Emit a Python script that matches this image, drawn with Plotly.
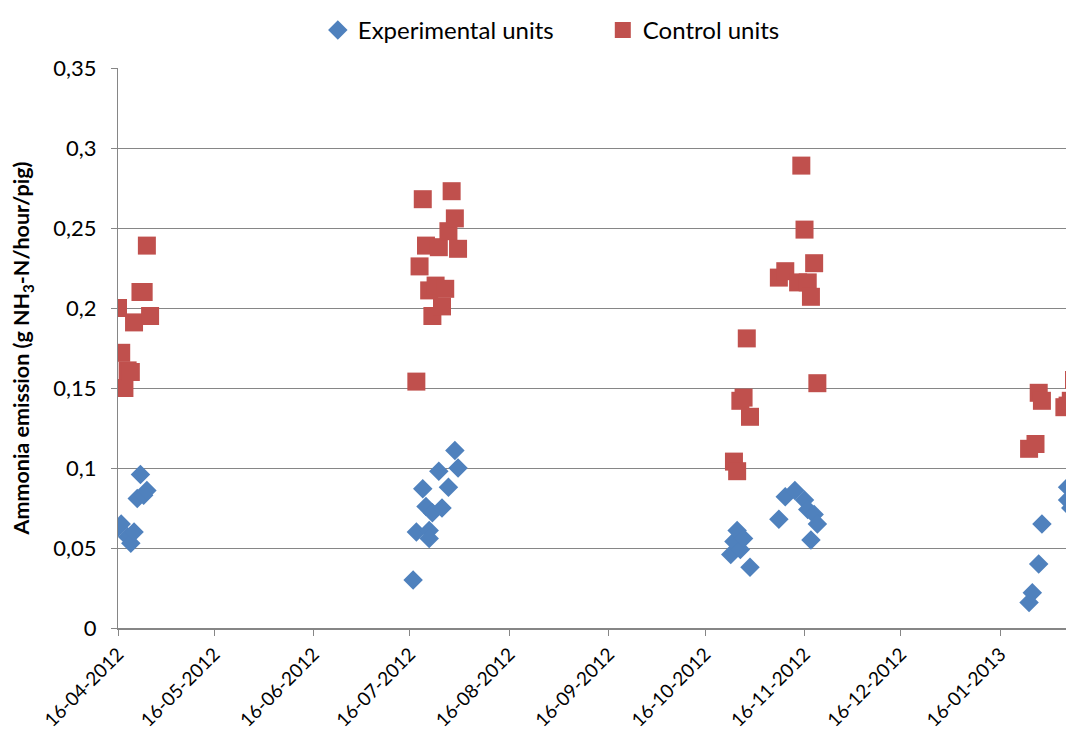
import plotly.graph_objects as go

# Experimental units (blue diamonds)
exp_dates = [
    "2012-04-16", "2012-04-17", "2012-04-19", "2012-04-20", "2012-04-21",
    "2012-04-22", "2012-04-23", "2012-04-24", "2012-04-25",
    "2012-07-17", "2012-07-18", "2012-07-20", "2012-07-21", "2012-07-22",
    "2012-07-22", "2012-07-23", "2012-07-25", "2012-07-26", "2012-07-28",
    "2012-07-30", "2012-07-31",
    "2012-10-24", "2012-10-25", "2012-10-26", "2012-10-27", "2012-10-28",
    "2012-10-30", "2012-11-08", "2012-11-10", "2012-11-13", "2012-11-16",
    "2012-11-17", "2012-11-18", "2012-11-19", "2012-11-20",
    "2013-01-25", "2013-01-26", "2013-01-28", "2013-01-29", "2013-02-06",
    "2013-02-06", "2013-02-07",
]
exp_values = [
    0.063, 0.065, 0.057, 0.053, 0.060,
    0.081, 0.096, 0.083, 0.086,
    0.030, 0.060, 0.087, 0.076, 0.061,
    0.056, 0.072, 0.098, 0.075, 0.088,
    0.111, 0.100,
    0.046, 0.054, 0.061, 0.049, 0.056,
    0.038, 0.068, 0.082, 0.086, 0.080,
    0.074, 0.055, 0.071, 0.065,
    0.016, 0.022, 0.040, 0.065, 0.088,
    0.080, 0.075,
]

# Control units (red squares)
ctrl_dates = [
    "2012-04-16", "2012-04-17", "2012-04-18", "2012-04-19", "2012-04-20",
    "2012-04-21", "2012-04-23", "2012-04-24", "2012-04-25", "2012-04-26",
    "2012-07-18", "2012-07-19", "2012-07-20", "2012-07-21", "2012-07-22",
    "2012-07-23", "2012-07-24", "2012-07-25", "2012-07-26", "2012-07-27",
    "2012-07-28", "2012-07-29", "2012-07-30", "2012-07-31",
    "2012-10-25", "2012-10-26", "2012-10-27", "2012-10-28", "2012-10-29",
    "2012-10-30", "2012-11-08", "2012-11-10", "2012-11-14", "2012-11-15",
    "2012-11-16", "2012-11-17", "2012-11-18", "2012-11-19", "2012-11-20",
    "2013-01-25", "2013-01-27", "2013-01-28", "2013-01-29", "2013-02-05",
    "2013-02-06", "2013-02-07", "2013-02-08",
]
ctrl_values = [
    0.200, 0.172, 0.150, 0.161, 0.160,
    0.191, 0.210, 0.210, 0.239, 0.195,
    0.154, 0.226, 0.268, 0.239, 0.211,
    0.195, 0.214, 0.238, 0.201, 0.212,
    0.248, 0.273, 0.256, 0.237,
    0.104, 0.098, 0.142, 0.144, 0.181,
    0.132, 0.219, 0.223, 0.216, 0.289,
    0.249, 0.216, 0.207, 0.228, 0.153,
    0.112, 0.115, 0.147, 0.142, 0.138,
    0.139, 0.142, 0.155,
]

y_ticks = [0, 0.05, 0.1, 0.15, 0.2, 0.25, 0.3, 0.35]

BLUE = "#4F81BD"
RED = "#C0504D"
GRID = "#868686"
FONT = "Lato, Carlito, 'Liberation Sans', sans-serif"

fig = go.Figure()
fig.add_trace(go.Scatter(
    x=exp_dates, y=exp_values, mode="markers", name="Experimental units",
    marker=dict(symbol="diamond", size=15, color=BLUE, line=dict(width=0)),
))
fig.add_trace(go.Scatter(
    x=ctrl_dates, y=ctrl_values, mode="markers", name="Control units",
    marker=dict(symbol="square", size=18, color=RED, line=dict(width=0)),
))

# the page body has an 8px margin: shrink the figure so it fits the window
fig.update_layout(
    width=1066, height=726,
    paper_bgcolor="white", plot_bgcolor="white",
    separators=", ",
    font=dict(family=FONT, size=16, color="black"),
    margin=dict(l=110, r=0, t=60, b=106),
    showlegend=True,
    legend=dict(orientation="h", x=0.209, xanchor="left",
                yref="container", y=1.0, yanchor="top",
                font=dict(size=24), entrywidth=240, entrywidthmode="pixels"),
    xaxis=dict(
        type="date", range=["2012-04-16", "2013-02-08"], automargin=False,
        tick0="2012-04-16", dtick="M1", tickformat="%d-%m-%Y",
        tickangle=-45, ticks="outside", ticklen=6, tickcolor=GRID,
        showline=True, linecolor=GRID, linewidth=1.5,
        showgrid=False, zeroline=False, tickfont=dict(size=19),
    ),
    yaxis=dict(
        range=[0, 0.35], tickvals=y_ticks, ticks="outside", ticklen=6,
        tickcolor=GRID, showline=True, linecolor=GRID, linewidth=1,
        showgrid=True, gridcolor=GRID, gridwidth=1, zeroline=False,
        automargin=False, tickfont=dict(size=22), ticklabelstandoff=10,
        title=dict(text="<b>Ammonia emission (g NH<sub>3</sub>-N/hour/pig)</b>",
                   font=dict(size=21.5), standoff=20),
    ),
)

fig.write_html("out.html")
